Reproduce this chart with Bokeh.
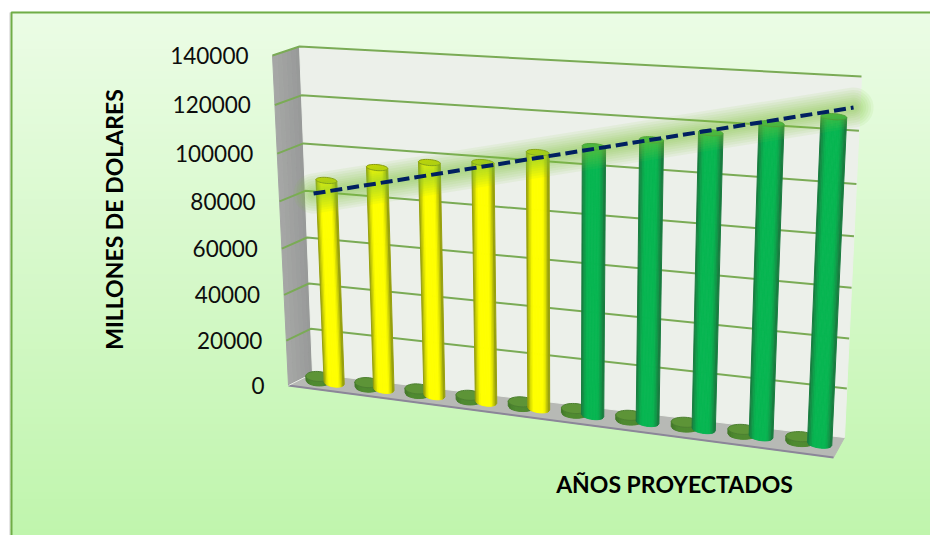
import numpy as np
from bokeh.plotting import figure
from bokeh.models import Range1d
from bokeh.core.properties import value
from bokeh.embed import file_html
from bokeh.resources import INLINE

# ---- chart data ----
categories = list(range(10))
anios = [2011, 2012, 2013, 2014, 2015, 2016, 2017, 2018, 2019, 2020]
millones = [87600, 94700, 98500, 100200, 105900, 109900, 114200, 118500, 123500, 127600]
y_ticks = [0, 20000, 40000, 60000, 80000, 100000, 120000, 140000]
trend_cat = [0.4, 9.97]
trend_values = [81600, 131400]
bar_colors = ["yellow"] * 5 + ["green"] * 5
y_title = "MILLONES DE DOLARES"
x_title = "AÑOS PROYECTADOS"

# ---- perspective of the 3-D box (pixel corners of wall planes) ----
Y_MAX = 140000.0
BACK = [(299, 46), (861, 76), (844, 437), (312, 373)]
FRONT = [(272, 55), (850, 93), (833, 457), (288, 385)]
PX_ZERO, PX_TOP = 386.0, 55.0


def to_val(py):
    return (PX_ZERO - py) / (PX_ZERO - PX_TOP) * Y_MAX


def homog(c):
    src = [(0, 1), (1, 1), (1, 0), (0, 0)]
    A, b = [], []
    for (u, v), (x, y) in zip(src, c):
        A.append([u, v, 1, 0, 0, 0, -u * x, -v * x]); b.append(x)
        A.append([0, 0, 0, u, v, 1, -u * y, -v * y]); b.append(y)
    h = np.linalg.solve(np.array(A, float), np.array(b, float))
    return np.append(h, 1).reshape(3, 3)


_cache = {}


def project(u, v, w):
    """u across (0-1), v chart value, w depth (0 back - 1 front) -> pixel x, pixel y"""
    if w not in _cache:
        _cache[w] = homog([((1 - w) * a[0] + w * b[0], (1 - w) * a[1] + w * b[1]) for a, b in zip(BACK, FRONT)])
    r = _cache[w] @ np.array([u, v / Y_MAX, 1.0])
    return r[0] / r[2], r[1] / r[2]


def hexmix(a, b, t):
    a = np.array([int(a[i:i + 2], 16) for i in (1, 3, 5)], float)
    b = np.array([int(b[i:i + 2], 16) for i in (1, 3, 5)], float)
    c = a + (b - a) * t
    return "#%02x%02x%02x" % tuple(int(round(x)) for x in c)


p = figure(width=930, height=535, x_range=Range1d(0, 930), y_range=Range1d(to_val(535), to_val(0)),
           toolbar_location=None, output_backend="svg", min_border=0, outline_line_color=None,
           x_axis_location=None, y_axis_location=None, background_fill_color="white", border_fill_color="white")
p.grid.visible = False


def poly(pts, color, alpha=1.0, line=None, lw=0):
    xs = [q[0] for q in pts]
    ys = [to_val(q[1]) for q in pts]
    p.patch(xs, ys, fill_color=color, fill_alpha=alpha, line_color=line if line else color,
            line_width=lw if line else 1.0, line_alpha=alpha)


def seg(pts, color, width, alpha=1.0, dash="solid", cap="butt"):
    p.line([q[0] for q in pts], [to_val(q[1]) for q in pts], line_color=color, line_width=width,
           line_alpha=alpha, line_dash=dash, line_cap=cap)


# ---- page background gradient and border ----
BG_TOP, BG_BOT = "#ebfce5", "#c0f5ad"
edges = np.linspace(11, 536, 71)
p.quad(left=10, right=931, top=[to_val(e) for e in edges[:-1]], bottom=[to_val(e + 1) for e in edges[1:]],
       fill_color=[hexmix(BG_TOP, BG_BOT, i / 69) for i in range(70)], line_color=None)
seg([(9.3, 536), (9.3, 12)], "#dcdcdc", 1)
seg([(11, 536), (11, 12), (931, 12)], "#70ad47", 2)

# ---- side wall ----
nw = 6
for i in range(nw):
    w0, w1 = i / nw, (i + 1) / nw
    poly([project(0, Y_MAX, w0), project(0, Y_MAX, w1), project(0, 0, w1), project(0, 0, w0)],
         hexmix("#979998", "#a6a7a6", (i + .5) / nw))

# ---- floor ----
poly([project(0, 0, 0), project(1, 0, 0), project(1, 0, 1), project(0, 0, 1)], "#b7b9b5")
seg([project(0, 0, 1), project(1, 0, 1)], "#8b8698", 2)
seg([project(0, 0, 1), project(0, 0, 0)], "#e4e8e2", 1)

# ---- back wall ----
poly([project(0, Y_MAX, 0), project(1, Y_MAX, 0), project(1, 0, 0), project(0, 0, 0)], "#ecf0ea")

# ---- grid lines ----
GRID = "#7aab55"
for t in y_ticks[1:]:
    seg([project(0, t, 1), project(0, t, 0), project(1, t, 0)], GRID, 2)

# ---- bars ----
W_BAR = 0.45
DU = 0.0205
DU_DISK = 0.0245
STRIPS = 15
PALETTE = {"yellow": ("#7f8a10", "#ffff00", "#c9d800", "#8a9608"),
           "green": ("#1d6f3c", "#08b652", "#1fae48", "#2f8f3a")}


def ellipse_pts(cx, cy, rx, ry, tilt, n=36):
    t = np.linspace(0, 2 * np.pi, n, endpoint=False)
    ex, ey = rx * np.cos(t), ry * np.sin(t)
    return [(cx + a, cy + b + a * tilt) for a, b in zip(ex, ey)]


def cylinder(u, top_v, du, ry_b, ry_t, edge, center, cap, rim, tilt=1.0, power=1.0):
    xb, yb = project(u, 0, W_BAR)
    xt, yt = project(u, top_v, W_BAR)
    xl_b, yl_b = project(u - du, 0, W_BAR)
    xr_b, yr_b = project(u + du, 0, W_BAR)
    xl_t, yl_t = project(u - du, top_v, W_BAR)
    xr_t, yr_t = project(u + du, top_v, W_BAR)
    rb = (xr_b - xl_b) / 2
    rt = (xr_t - xl_t) / 2
    ts = np.linspace(-1, 1, STRIPS + 1)
    for i in range(STRIPS):
        a, b = ts[i], ts[i + 1]
        m = (a + b) / 2
        sh = (1 - m * m) ** power
        col = hexmix(edge, center, min(1, sh * 1.25))
        fb = lambda s: (xb + s * rb, yb + tilt * s * (yr_b - yl_b) / 2 + ry_b * np.sqrt(max(0, 1 - s * s)))
        ft = lambda s: (xt + s * rt, yt + tilt * s * (yr_t - yl_t) / 2 + ry_t * np.sqrt(max(0, 1 - s * s)))
        poly([ft(a), ft(b), fb(b), fb(a)], col)
    tilt_t = tilt * (yr_t - yl_t) / (xr_t - xl_t)
    poly(ellipse_pts(xt, yt, rt, ry_t, tilt_t), cap, line=rim, lw=1)


for i, cat in enumerate(categories):
    # small disk: the years series, plotted on the same value axis
    u_d = (cat + 0.335) / 10
    cylinder(u_d, anios[i], DU_DISK, 5, 5, "#3f7526", "#4f8a30", "#5d9437", "#4c8030", tilt=0.4)
for i, cat in enumerate(categories):
    # main cylinder
    e, c, cp, rm = PALETTE[bar_colors[i]]
    cylinder((cat + 0.665) / 10, millones[i], DU, 4, 3, e, c, cp, rm, power=0.9)

# ---- trend line with its glow ----
tr = [project(trend_cat[j] / 10, trend_values[j], W_BAR) for j in range(2)]
for lw in [40, 35, 30, 25, 20, 16, 12, 8]:
    seg(tr, "#84c93c", lw, alpha=0.085, cap="round")
seg(tr, "#002060", 4, dash="12 5")

# ---- axis tick labels, following the front edge of the side wall ----
tx, ty = [], []
for t in y_ticks:
    a, b = project(0, t, 1)
    tx.append(a - 24)
    ty.append(to_val(b))
p.text(tx, ty, text=[str(t) for t in y_ticks], text_font=value("Lato"), text_font_size="22.5px",
       text_color="#0d0d0d", text_align="right", text_baseline="middle")

# ---- titles ----
p.text([113], [to_val(219)], text=[y_title], angle=np.pi / 2, text_font=value("Lato"), text_font_size="23px",
       text_font_style="bold", text_color="#000000", text_align="center", text_baseline="middle")
p.text([674], [to_val(483)], text=[x_title], text_font=value("Lato"), text_font_size="23px",
       text_font_style="bold", text_color="#000000", text_align="center", text_baseline="middle")

open("out.html", "w").write(file_html(p, INLINE))
